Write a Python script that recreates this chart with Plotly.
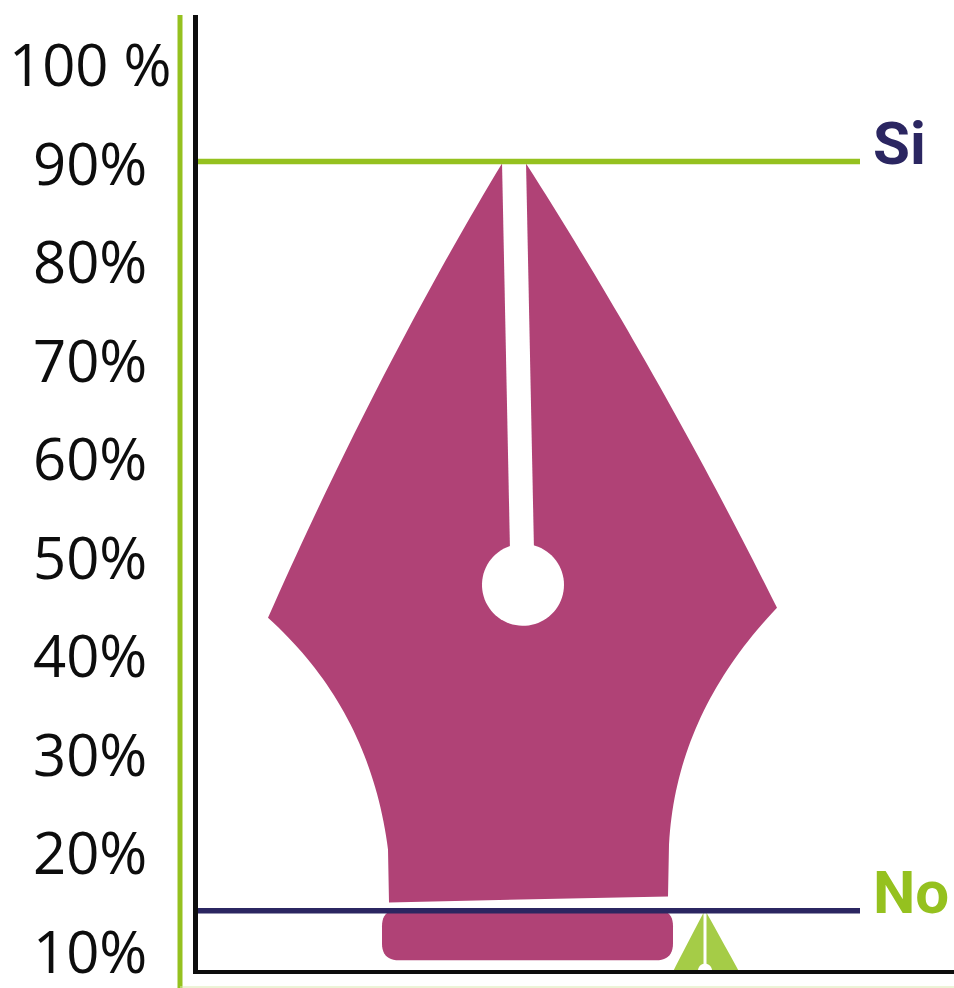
import numpy as np
import plotly.graph_objects as go

# DATA
categories = ["Si", "No"]
values = [90.4, 14.3]
tick_values = [100, 90, 80, 70, 60, 50, 40, 30, 20, 10]
tick_labels = ["100 %", "90%", "80%", "70%", "60%", "50%", "40%", "30%", "20%", "10%"]

BLACK = "#0d0d0d"
GREEN = "#95c11f"
NAVY = "#2b2661"
MAGENTA = "#b04276"
LIGHT_GREEN = "#a5cc47"

PX_PER_UNIT = 9.86  # axis scale, pixels per percentage point
Y_RANGE = [8.28, 105.27]
X_RANGE = [198, 954]

# one nib per category, same outline, cropped by the axis
PENS = {
    "Si": dict(x=514, slot=12, drift=8, slot_len=390, hole=(9, 424, 41), scale=1.0,
               color=MAGENTA, line=GREEN, label=NAVY, collar=True),
    "No": dict(x=705, slot=1.5, drift=0, slot_len=60, hole=(0, 60, 7), scale=0.88,
               color=LIGHT_GREEN, line=NAVY, label=GREEN, collar=False),
}


def bezier(p0, p1, p2, n=40):
    t = np.linspace(0, 1, n)[:, None]
    return (1 - t) ** 2 * np.array(p0) + 2 * t * (1 - t) * np.array(p1) + t**2 * np.array(p2)


def nib_outline(pen):
    # offsets in pixels from the tip, left and right blade
    s = pen["slot"]
    k = pen["scale"]
    left = bezier((0, 2), (-125, 210), (-234, 457)) * [k, 1] + [-s, 0]
    left2 = bezier((-246, 457), (-144, 549), (-126, 689))
    right = bezier((0, 2), (135, 214), (251, 447)) * [k, 1] + [s, 0]
    right2 = bezier((263, 447), (162, 553), (155, 684))
    if k != 1.0:
        left2 = left2 * [k, 1] + [s * 2, 0]
        right2 = right2 * [k, 1] - [s * 2, 0]
    return np.vstack([left, left2, [[-125, 742]], [[154, 736]], right2[::-1], right[::-1]])


def collar_outline():
    x0, x1, d0, d1 = -132, 159, 749, 800
    r = 17
    tl = bezier((x0, d0 + r), (x0, d0), (x0 + r, d0), 12)
    tr = bezier((x1 - r, d0), (x1, d0), (x1, d0 + r), 12)
    br = bezier((x1, d1 - r), (x1, d1), (x1 - r, d1), 12)
    bl = bezier((x0 + r, d1), (x0, d1), (x0, d1 - r), 12)
    return np.vstack([tl, tr, br, bl])


def slot_outline(pen):
    s, dr, n = pen["slot"], pen["drift"], pen["slot_len"]
    return np.array([[-s, 0], [s, 0], [s + dr, n], [-s + dr, n]])


def hole_outline(pen):
    dx, d, r = pen["hole"]
    a = np.linspace(0, 2 * np.pi, 80)
    return np.column_stack([dx + r * np.cos(a), d + r * np.sin(a)])


def pen_trace(points, pen, value, color):
    return go.Scatter(
        x=pen["x"] + points[:, 0],
        y=value - points[:, 1] / PX_PER_UNIT,
        mode="lines",
        fill="toself",
        fillcolor=color,
        line=dict(width=0, color=color, simplify=False),
        hoverinfo="skip",
        showlegend=False,
    )


fig = go.Figure()

for name, value in zip(categories, values):
    pen = PENS[name]
    fig.add_trace(pen_trace(nib_outline(pen), pen, value, pen["color"]))
    if pen["collar"]:
        fig.add_trace(pen_trace(collar_outline(), pen, value, pen["color"]))
    fig.add_trace(pen_trace(slot_outline(pen), pen, value, "white"))
    fig.add_trace(pen_trace(hole_outline(pen), pen, value, "white"))

for name, value in zip(categories, values):
    pen = PENS[name]
    fig.add_trace(
        go.Scatter(
            x=[X_RANGE[0], 860],
            y=[value, value],
            mode="lines",
            line=dict(width=5.5, color=pen["line"]),
            hoverinfo="skip",
            showlegend=False,
        )
    )
    fig.add_annotation(
        x=871,
        y=value,
        yshift=18,
        xref="x",
        yref="y",
        text=f"<b>{name}</b>",
        showarrow=False,
        xanchor="left",
        yanchor="middle",
        font=dict(family="Roboto", size=60, color=pen["label"]),
    )

px_to_paper = lambda px: (px - X_RANGE[0]) / (X_RANGE[1] - X_RANGE[0])

# tick labels are centred on one another, the axis could only right-align them
for tv, tl in zip(tick_values, tick_labels):
    fig.add_annotation(
        x=px_to_paper(90),
        y=tv,
        yshift=3,
        xref="paper",
        yref="y",
        text=tl,
        showarrow=False,
        xanchor="center",
        yanchor="middle",
        font=dict(family="Open Sans", size=58, color=BLACK),
    )

fig.update_layout(
    width=954,
    height=988,
    margin=dict(l=198, r=0, t=15, b=18),
    plot_bgcolor="white",
    paper_bgcolor="white",
    showlegend=False,
    shapes=[
        dict(
            type="line",
            xref="paper",
            yref="paper",
            x0=px_to_paper(180),
            x1=px_to_paper(180),
            y0=-18 / 955,
            y1=1,
            line=dict(color=GREEN, width=5),
        ),
        dict(
            type="line",
            xref="paper",
            yref="paper",
            x0=px_to_paper(180),
            x1=1,
            y0=-17 / 955,
            y1=-17 / 955,
            line=dict(color="#d9e8ae", width=1),
        ),
    ],
)
fig.update_xaxes(
    range=X_RANGE,
    showgrid=False,
    zeroline=False,
    showticklabels=False,
    ticks="",
    showline=True,
    linewidth=4,
    linecolor=BLACK,
)
fig.update_yaxes(
    range=Y_RANGE,
    showgrid=False,
    zeroline=False,
    showticklabels=False,
    ticks="",
    showline=True,
    linewidth=5,
    linecolor=BLACK,
)

# the page's default body margin would push the figure 8px in
fig.write_html(
    "out.html",
    config={"displayModeBar": False},
    post_script="document.body.style.margin='0';",
)
